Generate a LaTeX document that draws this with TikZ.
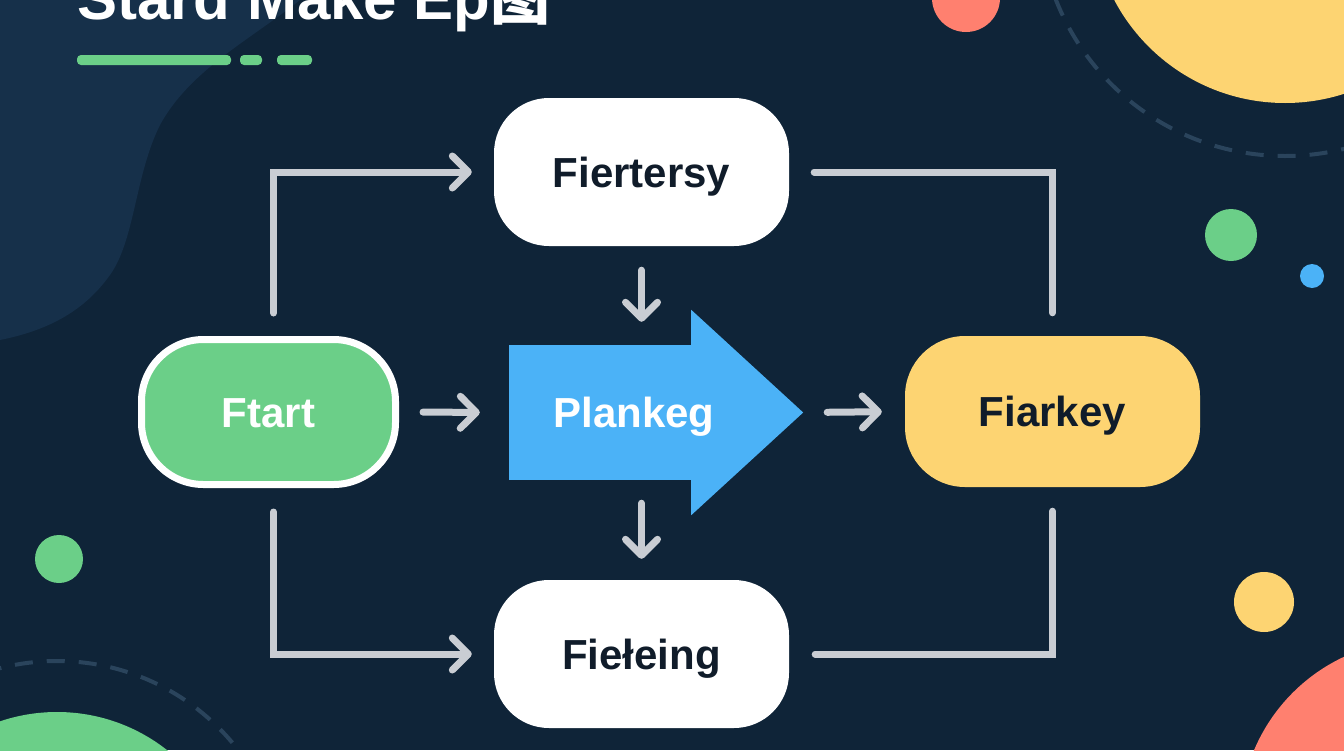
\documentclass[tikz,border=0pt]{standalone}
\usepackage{fontspec}
\setmainfont{Liberation Sans}
\newfontfamily\cjkfont{Noto Sans CJK SC}
\usetikzlibrary{arrows.meta}
\definecolor{bgc}{HTML}{0F2438}
\definecolor{blobc}{HTML}{16304A}
\definecolor{greenc}{HTML}{6BCF88}
\definecolor{bluec}{HTML}{4BB2F7}
\definecolor{yellowc}{HTML}{FDD472}
\definecolor{salmonc}{HTML}{FF806F}
\definecolor{linec}{HTML}{C9CDD3}
\definecolor{dashc}{HTML}{2A445C}
\definecolor{darktext}{HTML}{101C2A}
\newcommand\nodefontx{\fontsize{42}{50}\selectfont\bfseries}
\begin{document}
\begin{tikzpicture}[x=1pt,y=-1pt,
  conn/.style={draw=linec, line width=7pt, line cap=round},
  arr/.style={-{Straight Barb[length=16pt,width=32pt,round]}},
  pill/.style={rectangle, rounded corners=55pt, minimum width=295pt,
    minimum height=148pt, inner sep=0pt, font=\nodefontx,
    text height=30pt, text depth=0pt},
  deco/.style={dashc, line width=4pt, dash pattern=on 18pt off 14pt}]
\useasboundingbox (0,0) rectangle (1344,750);
\clip (0,0) rectangle (1344,750);
\fill[bgc] (0,0) rectangle (1344,750);
% lighter blob top-left
\fill[blobc] (0,0) -- (300,0) .. controls (250,40) and (190,70) .. (160,125)
  .. controls (135,175) and (135,240) .. (110,275)
  .. controls (85,310) and (50,330) .. (0,340) -- cycle;
% decorations
\draw[deco] (1285,-90) circle[radius=246pt];
\fill[yellowc] (1285,-90) circle[radius=193pt];
\fill[salmonc] (966,-2) circle[radius=34pt];
\fill[greenc] (1231,235) circle[radius=26pt];
\fill[bluec] (1312,276) circle[radius=12pt];
\fill[yellowc] (1264,602) circle[radius=30pt];
\fill[salmonc] (1420,820) circle[radius=180pt];
\fill[greenc] (59,559) circle[radius=24pt];
\draw[deco] (57,890) circle[radius=229pt];
\fill[greenc] (57,890) circle[radius=178pt];
% title
\node (title) [anchor=base west, inner sep=0pt, text=white,
  font=\fontsize{60}{70}\selectfont\bfseries] at (77,19) {Stard Make Ep{\cjkfont 图}};
\fill[greenc, rounded corners=4pt] (77,55) rectangle (231,65);
\fill[greenc, rounded corners=4pt] (240,55) rectangle (262,65);
\fill[greenc, rounded corners=4pt] (277,55) rectangle (312,65);
% nodes
\node (fiert) [pill, fill=white, text=darktext] at (641.5,172) {Fiertersy};
\node (fiel) [pill, fill=white, text=darktext] at (641.5,654) {Fiełeing};
\node (fiark) [pill, fill=yellowc, text=darktext, rounded corners=60pt,
  minimum height=151pt] at (1052.5,411.5) {Fiarkey};
\node (ftart) [pill, fill=greenc, draw=white, line width=7pt, text=white,
  rounded corners=62pt, minimum width=254pt, minimum height=145pt] at (268.5,412) {Ftart};
\node (plank) [rectangle, fill=bluec, inner sep=0pt, minimum width=183pt,
  minimum height=135pt] at (600.5,412.5) {};
\coordinate (tip) at ([xshift=111pt]plank.east);
\fill[bluec] ([xshift=-1pt,yshift=35pt]plank.north east) -- (tip)
  -- ([xshift=-1pt,yshift=-35pt]plank.south east) -- cycle;
\node (plankt) [inner sep=0pt, font=\nodefontx, text=white, text height=30pt,
  text depth=0pt] at (634,412) {Plankeg};
% connectors
\draw[conn, arr, shorten <=24pt, shorten >=29pt] (ftart.east) -- (plank.west);
\draw[conn, arr, shorten <=24pt, shorten >=23pt] (tip) -- (fiark.west);
\draw[conn, arr, shorten <=24pt, shorten >=23pt] (fiert.south) -- (fiert.south |- plank.north);
\draw[conn, arr, shorten <=23pt, shorten >=21pt] (fiel.north |- plank.south) -- (fiel.north);
\draw[conn, arr] ([xshift=5pt,yshift=23pt]ftart.north) |- ([xshift=-22pt]fiert.west);
\draw[conn, arr] ([xshift=5pt,yshift=-24pt]ftart.south) |- ([xshift=-22pt]fiel.west);
\draw[conn] ([xshift=25pt]fiert.east) -| ([yshift=23pt]fiark.north);
\draw[conn] ([yshift=-24pt]fiark.south) |- ([xshift=26pt]fiel.east);
\end{tikzpicture}
\end{document}
